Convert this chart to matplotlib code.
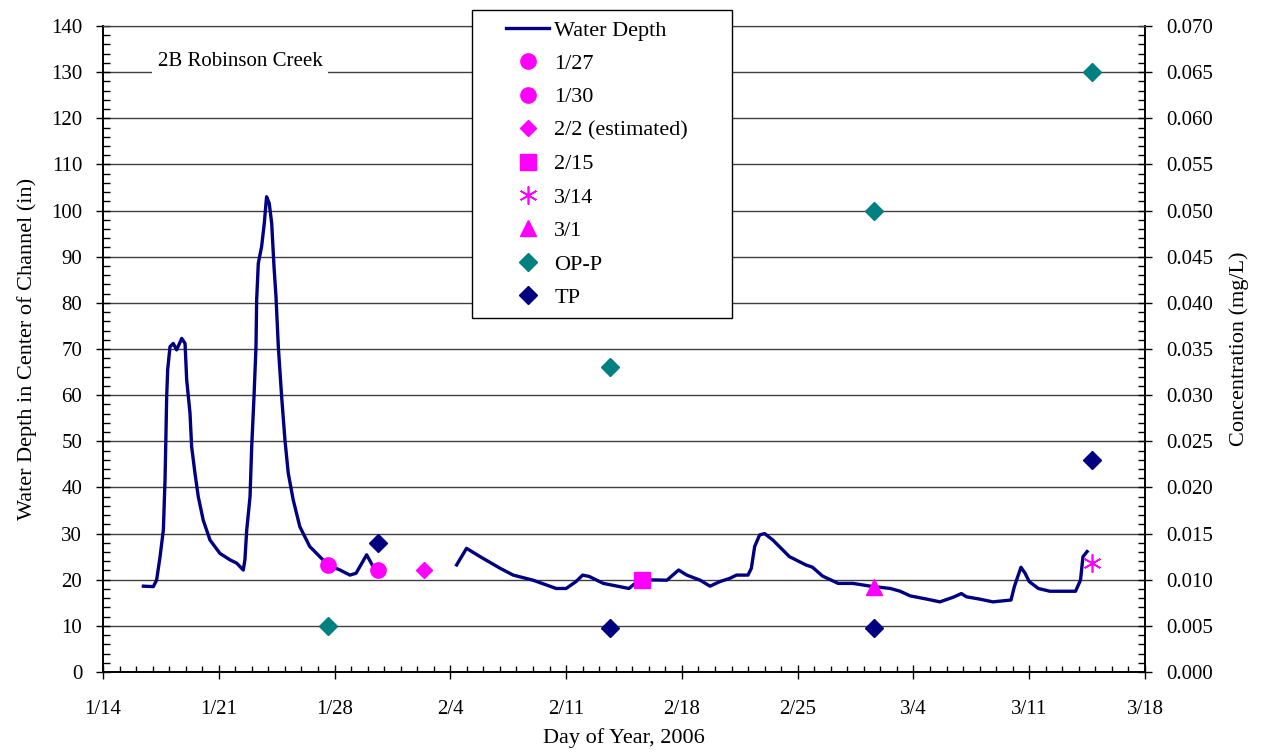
import matplotlib
matplotlib.use("Agg")
import matplotlib.pyplot as plt
import matplotlib.dates as mdates
from matplotlib.lines import Line2D
from matplotlib.legend_handler import HandlerLine2D
from matplotlib.ticker import MultipleLocator
import numpy as np
import pandas as pd

plt.rcParams["font.family"] = ["Liberation Serif", "DejaVu Serif"]

START = pd.Timestamp("2006-01-14")

# water depth (in), x = days after 1/14
depth_days_1 = [2.44, 3.04, 3.24, 3.45, 3.65, 3.75, 3.8, 3.85, 3.91, 4.05, 4.25, 4.45, 4.76, 4.96,
                5.06, 5.26, 5.36, 5.56, 5.76, 6.06, 6.47, 7.07, 7.68, 8.08, 8.48, 8.58, 8.69, 8.89,
                8.99, 9.13, 9.25, 9.29, 9.39, 9.59, 9.75, 9.89, 10.05, 10.2, 10.34, 10.46, 10.6,
                10.8, 11.0, 11.2, 11.5, 11.9, 12.5, 13.3, 13.6, 14.33, 14.93, 15.3, 15.94, 16.34, 16.65]
depth_vals_1 = [18.6, 18.5, 19.9, 25, 30.8, 41.6, 50.3, 59.7, 65.5, 70.5, 71.2, 69.8, 72.3, 71.2,
                63.3, 56.1, 48.8, 43.1, 38, 32.9, 28.6, 25.7, 24.3, 23.6, 22.1, 24.3, 30.8, 38,
                48.8, 59.7, 70.5, 80.6, 88.6, 92.2, 97.2, 103, 101.6, 97.2, 87.8, 81.3, 70.5,
                59.7, 50.3, 43.1, 37.3, 31.5, 27.2, 24.3, 23.2, 22.1, 21, 21.4, 25.4, 22.8, 22.0]
depth_days_2 = [21.38, 21.98, 22.8, 24.0, 24.8, 26.0, 27.4, 28.0, 28.6, 29.0, 29.4, 30.25, 31.8,
                32.3, 32.6, 34.1, 34.8, 35.3, 36.1, 36.7, 37.3, 37.9, 38.3, 39.0, 39.2, 39.4, 39.7,
                40.0, 40.5, 41.5, 42.5, 42.9, 43.5, 44.45, 45.35, 46.4, 47.6, 48.2, 48.8, 49.8,
                50.6, 51.4, 51.9, 52.2, 53.0, 53.8, 54.9, 55.1, 55.5, 55.75, 56.0, 56.55, 57.25,
                58.8, 59.1, 59.25, 59.5]
depth_vals_2 = [23.2, 26.8, 25, 22.5, 21, 19.9, 18.1, 18.1, 19.6, 21, 20.7, 19.2, 18.1,
                19.6, 20, 19.9, 22.1, 21, 19.9, 18.6, 19.6, 20.3, 21, 21, 22.5, 27.2, 29.7,
                30.0, 28.6, 25, 23.2, 22.7, 20.8, 19.2, 19.2, 18.6, 18.1, 17.5, 16.5, 15.8,
                15.2, 16.2, 17.0, 16.3, 15.8, 15.2, 15.6, 18.5, 22.7, 21.4, 19.6, 18.1, 17.5,
                17.5, 19.9, 25, 26.1]

# sampling events (depth, in)
sample_labels = ["1/27", "1/30", "2/2 (estimated)", "2/15", "3/14", "3/1"]
sample_days = [13.6, 16.65, 19.4, 32.6, 59.8, 46.6]
sample_depth = [23.2, 22.0, 22.0, 20.0, 23.7, 18.4]

# concentrations (mg/L)
opp_days = [13.6, 30.65, 46.6, 59.8]
opp_conc = [0.005, 0.033, 0.050, 0.065]
tp_days = [16.65, 30.65, 46.6, 59.8]
tp_conc = [0.014, 0.0048, 0.0048, 0.023]


def to_dates(days):
    return [START + pd.Timedelta(days=d) for d in days]


NAVY = "#000080"
MAGENTA = "#FF00FF"
TEAL = "#008080"

fig = plt.figure(figsize=(12.66, 7.52), dpi=100)
ax = fig.add_axes([103 / 1266, 1 - 672 / 752, 1042 / 1266, 646 / 752])
ax2 = ax.twinx()

line_x = to_dates(depth_days_1) + [START + pd.Timedelta(days=19)] + to_dates(depth_days_2)
line_y = depth_vals_1 + [np.nan] + depth_vals_2
h_depth, = ax.plot(line_x, line_y, color=NAVY, lw=2.4, zorder=3, solid_joinstyle="round")

marker_styles = [
    dict(marker="o", ms=11),
    dict(marker="o", ms=11),
    dict(marker="D", ms=8.5),
    dict(marker="s", ms=11),
    dict(marker=(6, 2, 0), ms=13, mew=1.2),
    dict(marker="^", ms=12),
]
handles = [h_depth]
for lab, d, v, st in zip(sample_labels, sample_days, sample_depth, marker_styles):
    h, = ax.plot(to_dates([d]), [v], ls="none", color=MAGENTA, mec=MAGENTA, zorder=4, **st)
    handles.append(h)

h_opp, = ax2.plot(to_dates(opp_days), opp_conc, ls="none", marker="D", ms=9, color=TEAL, zorder=4)
h_tp, = ax2.plot(to_dates(tp_days), tp_conc, ls="none", marker="D", ms=9, color=NAVY, zorder=4)
handles += [h_opp, h_tp]

ax.set_xlim(START, START + pd.Timedelta(days=63))
ax.set_ylim(0, 140)
ax2.set_ylim(0, 0.070)

tick_dates = to_dates(range(0, 64, 7))
ax.set_xticks(tick_dates)
ax.set_xticklabels([f"{d.month}/{d.day}" for d in tick_dates])
ax.xaxis.set_minor_locator(mdates.DayLocator())
ax.yaxis.set_major_locator(MultipleLocator(10))
ax.yaxis.set_minor_locator(MultipleLocator(2))
ax2.yaxis.set_major_locator(MultipleLocator(0.005))
ax2.yaxis.set_minor_locator(MultipleLocator(0.001))
ax2.yaxis.set_major_formatter(matplotlib.ticker.FormatStrFormatter("%.3f"))

ax.grid(axis="y", which="major", color="#404040", lw=1.0)
ax.set_axisbelow(True)

ax.tick_params(axis="x", which="major", direction="inout", length=10, width=1, pad=15, labelsize=15)
ax.tick_params(axis="x", which="minor", direction="in", length=4, width=1)
ax.tick_params(axis="y", which="major", direction="inout", length=10, width=1, pad=10, labelsize=15)
ax.tick_params(axis="y", which="minor", direction="in", length=5, width=1)
ax2.tick_params(axis="y", which="major", direction="inout", length=10, width=1, pad=10, labelsize=15)
ax2.tick_params(axis="y", which="minor", direction="in", length=5, width=1)

for a in (ax, ax2):
    a.spines["top"].set_color("#404040")
    for s in ("left", "right", "bottom"):
        a.spines[s].set_linewidth(1.2)

ax.set_xlabel("Day of Year, 2006", fontsize=16, labelpad=7)
ax.set_ylabel("Water Depth in Center of Channel (in)", fontsize=16, labelpad=10)
ax2.set_ylabel("Concentration (mg/L)", fontsize=16, labelpad=12)

ax.text(START + pd.Timedelta(days=8.3), 132.2, "2B Robinson Creek", fontsize=15,
        ha="center", va="center", zorder=5,
        bbox=dict(facecolor="white", edgecolor="none", pad=4))

labels = (["Water Depth"] + sample_labels[:2] + ["2/2 (estimated)" + "\u00a0" * 6]
          + sample_labels[3:] + ["OP-P", "TP"])
leg = fig.legend(handles, labels, loc="upper left", bbox_to_anchor=(472 / 1266, 1 - 10 / 752),
                 frameon=True, fancybox=False, edgecolor="black", framealpha=1,
                 fontsize=16, borderpad=0.45, labelspacing=0.58, handlelength=3.0,
                 handletextpad=0.25, borderaxespad=0, numpoints=1,
                 handler_map={Line2D: HandlerLine2D(xpad=1.1)})
leg.get_frame().set_linewidth(1.0)

fig.savefig("out.png", dpi=100)
